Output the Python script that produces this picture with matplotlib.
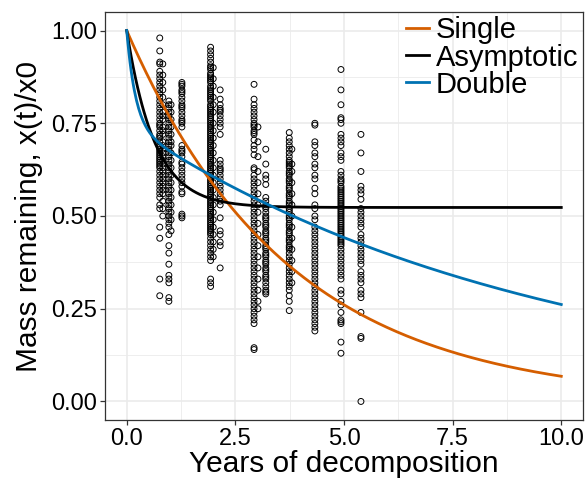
import numpy as np
import matplotlib
matplotlib.use("Agg")
import matplotlib.pyplot as plt
from matplotlib.ticker import MultipleLocator

plt.rcParams['font.family'] = ['Liberation Sans', 'DejaVu Sans']

# Observed mass remaining, grouped by sampling time (years)
obs_0_76 = [0.98, 0.945, 0.915, 0.91, 0.89, 0.88, 0.87, 0.86, 0.85, 0.84, 0.83, 0.82, 0.81,
            0.80, 0.79, 0.78, 0.77, 0.76, 0.75, 0.745, 0.74, 0.73, 0.72, 0.715, 0.71, 0.70,
            0.69, 0.685, 0.68, 0.675, 0.67, 0.665, 0.66, 0.655, 0.65, 0.645, 0.64, 0.635,
            0.63, 0.62, 0.61, 0.60, 0.59, 0.58, 0.57, 0.56, 0.55, 0.53, 0.52, 0.47, 0.44,
            0.33, 0.285]
obs_0_83 = [0.91, 0.88, 0.86, 0.84, 0.82, 0.80, 0.78, 0.77, 0.76, 0.74, 0.73, 0.72, 0.70,
            0.69, 0.68, 0.67, 0.66, 0.65, 0.64, 0.63, 0.62, 0.61, 0.60, 0.59, 0.58, 0.57,
            0.56, 0.54, 0.52, 0.50]
obs_0_97 = [0.81, 0.80, 0.79, 0.78, 0.77, 0.76, 0.75, 0.74, 0.73, 0.72, 0.71, 0.70, 0.69,
            0.68, 0.67, 0.66, 0.65, 0.64, 0.63, 0.62, 0.61, 0.60, 0.59, 0.58, 0.57, 0.56,
            0.55, 0.54, 0.53, 0.52, 0.51, 0.50, 0.49, 0.48, 0.47, 0.45, 0.42, 0.40, 0.37,
            0.34, 0.33, 0.32, 0.28, 0.27]
obs_1_02 = [0.80, 0.78, 0.76, 0.74, 0.72, 0.70, 0.69, 0.67, 0.65, 0.63, 0.61, 0.59, 0.57,
            0.55, 0.53, 0.51, 0.49, 0.46]
obs_1_27 = [0.86, 0.855, 0.85, 0.84, 0.835, 0.83, 0.82, 0.81, 0.80, 0.795, 0.79, 0.78,
            0.77, 0.76, 0.755, 0.75, 0.74, 0.69, 0.68, 0.675, 0.67, 0.66, 0.645, 0.64,
            0.63, 0.62, 0.61, 0.60, 0.59, 0.58, 0.565, 0.56, 0.505, 0.50, 0.495]
obs_1_93 = [0.955, 0.945, 0.935, 0.925, 0.915, 0.905, 0.90, 0.895, 0.885, 0.88, 0.875,
            0.87, 0.865, 0.86, 0.85, 0.845, 0.84, 0.835, 0.83, 0.825, 0.82, 0.815, 0.81,
            0.80, 0.795, 0.79, 0.785, 0.78, 0.775, 0.77, 0.765, 0.76, 0.755, 0.75, 0.745,
            0.74, 0.735, 0.73, 0.725, 0.72, 0.715, 0.71, 0.705, 0.70, 0.695, 0.69, 0.685,
            0.68, 0.675, 0.67, 0.665, 0.66, 0.655, 0.65, 0.645, 0.64, 0.635, 0.63, 0.625,
            0.62, 0.615, 0.61, 0.605, 0.60, 0.595, 0.59, 0.585, 0.58, 0.575, 0.57, 0.565,
            0.56, 0.555, 0.55, 0.545, 0.54, 0.535, 0.53, 0.525, 0.52, 0.515, 0.51, 0.505,
            0.50, 0.495, 0.49, 0.485, 0.48, 0.475, 0.47, 0.465, 0.46, 0.455, 0.45, 0.44,
            0.43, 0.42, 0.41, 0.40, 0.39, 0.38, 0.33, 0.32, 0.31]
obs_1_99 = [0.90, 0.87, 0.85, 0.82, 0.80, 0.78, 0.75, 0.73, 0.71, 0.69, 0.67, 0.65, 0.63,
            0.61, 0.59, 0.57, 0.55, 0.53, 0.51, 0.49, 0.47, 0.45, 0.43, 0.41, 0.39]
obs_2_15 = [0.84, 0.815, 0.80, 0.79, 0.785, 0.78, 0.77, 0.76, 0.75, 0.74, 0.72, 0.65, 0.64,
            0.63, 0.625, 0.62, 0.61, 0.60, 0.59, 0.58, 0.57, 0.56, 0.55, 0.54, 0.53, 0.495,
            0.46, 0.45, 0.43, 0.42, 0.36]
obs_2_93 = [0.855, 0.815, 0.80, 0.79, 0.78, 0.77, 0.76, 0.75, 0.745, 0.74, 0.73, 0.725,
            0.72, 0.705, 0.69, 0.68, 0.665, 0.63, 0.625, 0.61, 0.60, 0.59, 0.58, 0.57, 0.56,
            0.55, 0.54, 0.53, 0.52, 0.51, 0.50, 0.49, 0.48, 0.47, 0.46, 0.45, 0.44, 0.43,
            0.42, 0.41, 0.40, 0.39, 0.38, 0.37, 0.36, 0.35, 0.34, 0.33, 0.32, 0.31, 0.30,
            0.29, 0.28, 0.27, 0.26, 0.25, 0.24, 0.23, 0.22, 0.21, 0.145, 0.14]
obs_3_02 = [0.74, 0.70, 0.66, 0.62, 0.59, 0.56, 0.53, 0.51, 0.48, 0.45, 0.42, 0.39, 0.36,
            0.33, 0.30, 0.27, 0.25]
obs_3_20 = [0.68, 0.64, 0.61, 0.60, 0.585, 0.55, 0.54, 0.53, 0.525, 0.52, 0.51, 0.50,
            0.495, 0.49, 0.48, 0.475, 0.47, 0.46, 0.455, 0.45, 0.44, 0.435, 0.43, 0.42,
            0.415, 0.41, 0.40, 0.395, 0.39, 0.38, 0.375, 0.37, 0.36, 0.355, 0.35, 0.34,
            0.335, 0.33, 0.32, 0.31, 0.30, 0.295, 0.29]
obs_3_74 = [0.725, 0.71, 0.70, 0.69, 0.68, 0.67, 0.66, 0.65, 0.645, 0.64, 0.635, 0.63,
            0.62, 0.615, 0.61, 0.60, 0.595, 0.59, 0.58, 0.575, 0.57, 0.56, 0.555, 0.55,
            0.54, 0.535, 0.53, 0.52, 0.515, 0.51, 0.50, 0.495, 0.49, 0.48, 0.475, 0.47,
            0.46, 0.455, 0.45, 0.44, 0.435, 0.43, 0.42, 0.415, 0.41, 0.40, 0.39, 0.38,
            0.37, 0.36, 0.35, 0.34, 0.33, 0.32, 0.31, 0.30, 0.285, 0.27, 0.245]
obs_3_80 = [0.68, 0.64, 0.62, 0.59, 0.56, 0.53, 0.50, 0.47, 0.44, 0.41, 0.38, 0.35, 0.32]
obs_4_33 = [0.75, 0.745, 0.70, 0.69, 0.67, 0.66, 0.64, 0.63, 0.61, 0.60, 0.575, 0.56,
            0.53, 0.52, 0.50, 0.49, 0.47, 0.46, 0.45, 0.44, 0.43, 0.42, 0.41, 0.40, 0.39,
            0.38, 0.37, 0.36, 0.35, 0.34, 0.33, 0.32, 0.31, 0.30, 0.29, 0.28, 0.27, 0.26,
            0.25, 0.24, 0.23, 0.22, 0.21, 0.20, 0.19]
obs_4_93 = [0.895, 0.84, 0.80, 0.765, 0.76, 0.75, 0.72, 0.71, 0.70, 0.69, 0.67, 0.66,
            0.65, 0.62, 0.61, 0.60, 0.595, 0.59, 0.58, 0.575, 0.57, 0.565, 0.56, 0.555,
            0.55, 0.545, 0.54, 0.535, 0.53, 0.525, 0.52, 0.515, 0.51, 0.505, 0.50, 0.495,
            0.49, 0.485, 0.48, 0.475, 0.47, 0.465, 0.46, 0.455, 0.45, 0.445, 0.44, 0.435,
            0.43, 0.425, 0.42, 0.41, 0.40, 0.39, 0.38, 0.37, 0.36, 0.35, 0.34, 0.33, 0.30,
            0.29, 0.27, 0.26, 0.24, 0.22, 0.215, 0.21, 0.16, 0.13]
obs_5_39 = [0.72, 0.67, 0.62, 0.58, 0.57, 0.56, 0.545, 0.52, 0.51, 0.50, 0.49, 0.48, 0.47,
            0.45, 0.44, 0.43, 0.42, 0.41, 0.40, 0.39, 0.38, 0.37, 0.35, 0.34, 0.33, 0.32,
            0.30, 0.29, 0.28, 0.24, 0.175, 0.17, 0.0]

sample_times = [0.76, 0.83, 0.97, 1.02, 1.27, 1.93, 1.99, 2.15, 2.93, 3.02, 3.20,
                3.74, 3.80, 4.33, 4.93, 5.39]
samples = [obs_0_76, obs_0_83, obs_0_97, obs_1_02, obs_1_27, obs_1_93, obs_1_99, obs_2_15,
           obs_2_93, obs_3_02, obs_3_20, obs_3_74, obs_3_80, obs_4_33, obs_4_93, obs_5_39]

# Fitted decomposition models
k_single = 0.269
asym_A, k_asym = 0.523, 1.55
dbl_a, k_fast, k_slow = 0.253, 5.0, 0.105

series_names = ["Single", "Asymptotic", "Double"]
series_colors = ["#D55E00", "#000000", "#0072B2"]

t = np.linspace(0, 10, 400)
curves = [
    np.exp(-k_single * t),
    asym_A + (1 - asym_A) * np.exp(-k_asym * t),
    dbl_a * np.exp(-k_fast * t) + (1 - dbl_a) * np.exp(-k_slow * t),
]

fig = plt.figure(figsize=(5.88, 4.82), dpi=100)
ax = fig.add_axes([105 / 588, 1 - 420 / 482, 478 / 588, 408 / 482])

for ts, vals in zip(sample_times, samples):
    ax.scatter(np.full(len(vals), ts), vals, s=18, facecolors='none',
               edgecolors='black', linewidths=0.7, zorder=3)

for name, col, y in zip(series_names, series_colors, curves):
    ax.plot(t, y, color=col, lw=2.0, label=name, zorder=4)

ax.set_xlim(-0.5, 10.5)
ax.set_ylim(-0.05, 1.05)
ax.xaxis.set_minor_locator(MultipleLocator(1.25))
ax.yaxis.set_minor_locator(MultipleLocator(0.125))
ax.set_xticks([0, 2.5, 5, 7.5, 10])
ax.set_xticklabels(["0.0", "2.5", "5.0", "7.5", "10.0"])
ax.set_yticks([0, 0.25, 0.5, 0.75, 1.0])
ax.set_yticklabels(["0.00", "0.25", "0.50", "0.75", "1.00"])

ax.grid(which='major', color='#EBEBEB', lw=1.2, zorder=0)
ax.grid(which='minor', color='#EBEBEB', lw=0.6, zorder=0)
ax.set_axisbelow(True)
for sp in ax.spines.values():
    sp.set_color('#333333')
    sp.set_linewidth(0.9)
ax.tick_params(which='major', length=3.5, width=0.9, color='#333333',
               labelsize=17, labelcolor='black', pad=2)
ax.tick_params(which='minor', length=0)

ax.set_xlabel("Years of decomposition", fontsize=21.5, labelpad=0)
ax.set_ylabel("Mass remaining, x(t)/x0", fontsize=21.5, labelpad=6)

ax.legend(loc='upper right', bbox_to_anchor=(1.0, 1.0), frameon=False, fontsize=21,
          handlelength=0.8, handletextpad=0.25, labelspacing=-0.03, borderpad=0.05,
          borderaxespad=0.1)

fig.savefig("out.png", dpi=100)
